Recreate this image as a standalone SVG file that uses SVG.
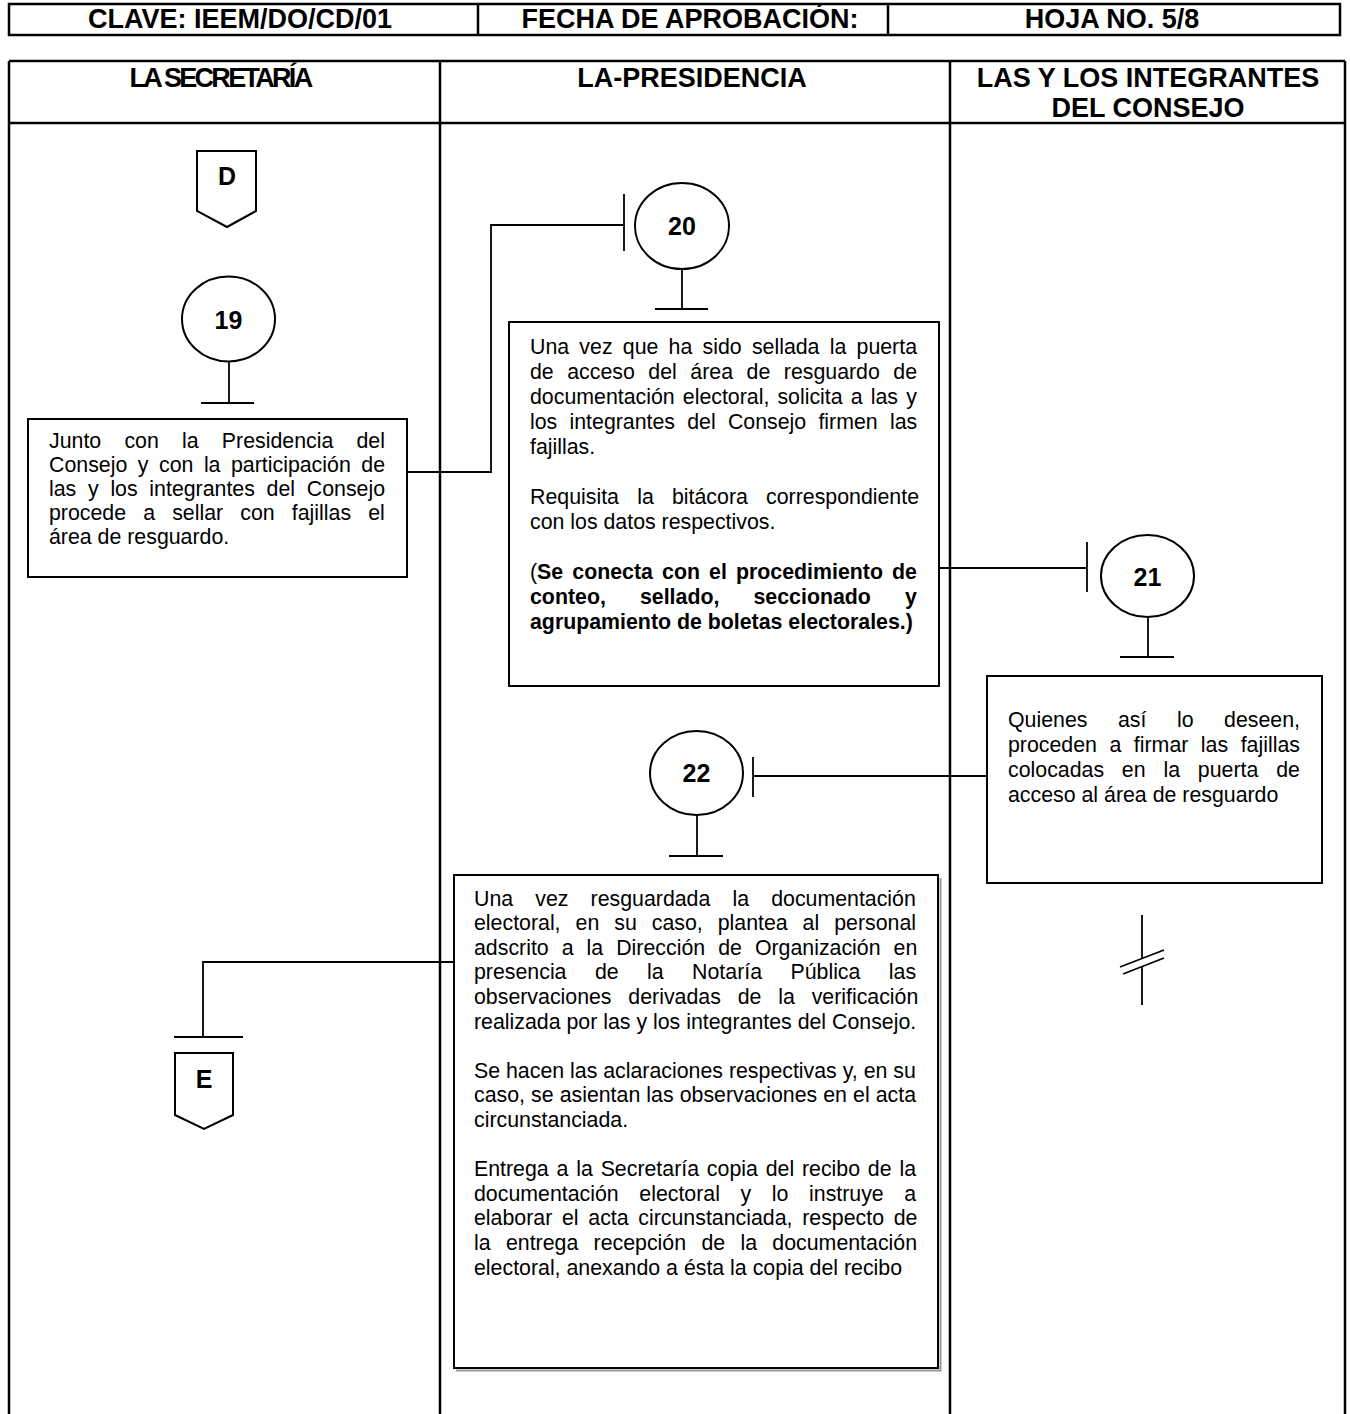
<svg xmlns="http://www.w3.org/2000/svg" width="1350" height="1414" viewBox="0 0 1350 1414">
<style>
.ln{stroke:#000;stroke-width:2.5;fill:none}
.bx{stroke:#000;stroke-width:2;fill:#fff}
.cn{stroke:#000;stroke-width:1.8;fill:none}
.hd{font-family:"Liberation Sans",Arial,sans-serif;font-weight:bold;font-size:27px;fill:#000;text-anchor:middle}
.num{font-family:"Liberation Sans",Arial,sans-serif;font-weight:bold;font-size:25px;fill:#000;text-anchor:middle}
.tx{font-family:"Liberation Sans",Arial,sans-serif;font-size:21.33px;fill:#000}
.b{font-weight:bold}
</style>
<rect width="1350" height="1414" fill="#fff"/>
<g id="header">
<rect class="ln" x="9" y="4" width="1331" height="31" stroke-width="2"/>
<line class="ln" x1="478" y1="4" x2="478" y2="35" stroke-width="2"/>
<line class="ln" x1="888" y1="4" x2="888" y2="35" stroke-width="2"/>
<text class="hd" x="240" y="28">CLAVE: IEEM/DO/CD/01</text>
<text class="hd" x="690" y="28">FECHA DE APROBACIÓN:</text>
<text class="hd" x="1112" y="28">HOJA NO. 5/8</text>
</g>
<g id="lanes">
<line class="ln" x1="9" y1="61" x2="1345" y2="61"/>
<line class="ln" x1="9" y1="123" x2="1345" y2="123"/>
<line class="ln" x1="9" y1="61" x2="9" y2="1414"/>
<line class="ln" x1="440" y1="61" x2="440" y2="1414"/>
<line class="ln" x1="950" y1="61" x2="950" y2="1414"/>
<line class="ln" x1="1345" y1="61" x2="1345" y2="1414"/>
<text class="hd" x="220" y="87" letter-spacing="-2.7" font-size="28">LA SECRETARÍA</text>
<text class="hd" x="692" y="87" font-size="28">LA-PRESIDENCIA</text>
<text class="hd" x="1148" y="87" font-size="28">LAS Y LOS INTEGRANTES</text>
<text class="hd" x="1148" y="117" font-size="28">DEL CONSEJO</text>
</g>
<g id="connectors">
<line class="cn" x1="229" y1="362" x2="229" y2="403"/>
<line class="cn" x1="201" y1="403" x2="254" y2="403"/>
<polyline class="cn" points="402,472 491,472 491,225 624,225"/>
<line class="cn" x1="624" y1="194" x2="624" y2="251"/>
<line class="cn" x1="682" y1="269" x2="682" y2="309"/>
<line class="cn" x1="655" y1="309" x2="708" y2="309"/>
<line class="cn" x1="939" y1="568" x2="1087" y2="568"/>
<line class="cn" x1="1087" y1="542" x2="1087" y2="592"/>
<line class="cn" x1="1148" y1="617" x2="1148" y2="657"/>
<line class="cn" x1="1120" y1="657" x2="1174" y2="657"/>
<line class="cn" x1="987" y1="776" x2="753" y2="776"/>
<line class="cn" x1="753" y1="757" x2="753" y2="797"/>
<line class="cn" x1="697" y1="815" x2="697" y2="856"/>
<line class="cn" x1="669" y1="856" x2="723" y2="856"/>
<polyline class="cn" points="454,962 203,962 203,1037"/>
<line class="cn" x1="174" y1="1037" x2="243" y2="1037"/>
<g id="break">
<line class="cn" x1="1142" y1="915" x2="1142" y2="958.5"/>
<line class="cn" x1="1142" y1="966.5" x2="1142" y2="1005"/>
<line class="cn" x1="1120" y1="967" x2="1164" y2="950"/>
<line class="cn" x1="1123" y1="974" x2="1164" y2="958"/>
</g>
</g>
<g id="conn-D">
<polygon class="bx" points="197,151 256,151 256,211 227,227 197,211"/>
<text class="num" x="227" y="185">D</text>
</g>
<g id="step19">
<ellipse class="bx" cx="228.5" cy="319" rx="46.5" ry="42.5"/>
<text class="num" x="228.5" y="329">19</text>
</g>
<g id="box19">
<rect class="bx" x="28" y="419" width="379" height="158"/>
<text class="tx" x="49" y="447.5" word-spacing="17.3">Junto con la Presidencia del</text>
<text class="tx" x="49" y="471.5" word-spacing="4.6">Consejo y con la participación de</text>
<text class="tx" x="49" y="495.5" word-spacing="5.8">las y los integrantes del Consejo</text>
<text class="tx" x="49" y="519.5" word-spacing="11.2">procede a sellar con fajillas el</text>
<text class="tx" x="49" y="543.5">área de resguardo.</text>
</g>
<g id="step20">
<ellipse class="bx" cx="682" cy="226" rx="47" ry="43"/>
<text class="num" x="682" y="235">20</text>
</g>
<g id="box20">
<rect class="bx" x="509" y="322" width="430" height="364"/>
<text class="tx" x="530" y="353.5" word-spacing="4.3">Una vez que ha sido sellada la puerta</text>
<text class="tx" x="530" y="378.5" word-spacing="7.6">de acceso del área de resguardo de</text>
<text class="tx" x="530" y="403.5" word-spacing="2.2">documentación electoral, solicita a las y</text>
<text class="tx" x="530" y="428.5" word-spacing="6.3">los integrantes del Consejo firmen las</text>
<text class="tx" x="530" y="453.5">fajillas.</text>
<text class="tx" x="530" y="503.5" word-spacing="12.3">Requisita la bitácora correspondiente</text>
<text class="tx" x="530" y="528.5">con los datos respectivos.</text>
<text class="tx" x="530" y="578.5" word-spacing="3.2">(<tspan class="b">Se conecta con el procedimiento de</tspan></text>
<text class="tx b" x="530" y="603.5" word-spacing="28.2">conteo, sellado, seccionado y</text>
<text class="tx b" x="530" y="628.5">agrupamiento de boletas electorales.)</text>
</g>
<g id="step21">
<ellipse class="bx" cx="1147.5" cy="576" rx="46.5" ry="41"/>
<text class="num" x="1147.5" y="585.5">21</text>
</g>
<g id="box21">
<rect class="bx" x="987" y="676" width="335" height="207"/>
<text class="tx" x="1008" y="726.5" word-spacing="24.6">Quienes así lo deseen,</text>
<text class="tx" x="1008" y="751.5" word-spacing="6.6">proceden a firmar las fajillas</text>
<text class="tx" x="1008" y="776.5" word-spacing="11.9">colocadas en la puerta de</text>
<text class="tx" x="1008" y="801.5">acceso al área de resguardo</text>
</g>
<g id="step22">
<ellipse class="bx" cx="696.5" cy="773" rx="46.5" ry="42"/>
<text class="num" x="696.5" y="782">22</text>
</g>
<g id="box22">
<polyline points="940.5,878 940.5,1370.5 456,1370.5" fill="none" stroke="#999" stroke-width="2"/>
<rect class="bx" x="454" y="875" width="484" height="493"/>
<text class="tx" x="474" y="905.5" word-spacing="16.2">Una vez resguardada la documentación</text>
<text class="tx" x="474" y="930.1" word-spacing="9.05">electoral, en su caso, plantea al personal</text>
<text class="tx" x="474" y="954.7" word-spacing="7.1">adscrito a la Dirección de Organización en</text>
<text class="tx" x="474" y="979.3" word-spacing="22.5">presencia de la Notaría Pública las</text>
<text class="tx" x="474" y="1003.9" word-spacing="10.9">observaciones derivadas de la verificación</text>
<text class="tx" x="474" y="1028.5">realizada por las y los integrantes del Consejo.</text>
<text class="tx" x="474" y="1077.7">Se hacen las aclaraciones respectivas y, en su</text>
<text class="tx" x="474" y="1102.3" word-spacing="0.14">caso, se asientan las observaciones en el acta</text>
<text class="tx" x="474" y="1126.9">circunstanciada.</text>
<text class="tx" x="474" y="1176.1" word-spacing="1.9">Entrega a la Secretaría copia del recibo de la</text>
<text class="tx" x="474" y="1200.7" word-spacing="14.7">documentación electoral y lo instruye a</text>
<text class="tx" x="474" y="1225.3" word-spacing="3.8">elaborar el acta circunstanciada, respecto de</text>
<text class="tx" x="474" y="1249.9" word-spacing="9.4">la entrega recepción de la documentación</text>
<text class="tx" x="474" y="1274.5">electoral, anexando a ésta la copia del recibo</text>
</g>
<g id="conn-E">
<polygon class="bx" points="175,1053 233,1053 233,1115 204,1129 175,1115"/>
<text class="num" x="204" y="1088">E</text>
</g>
</svg>
